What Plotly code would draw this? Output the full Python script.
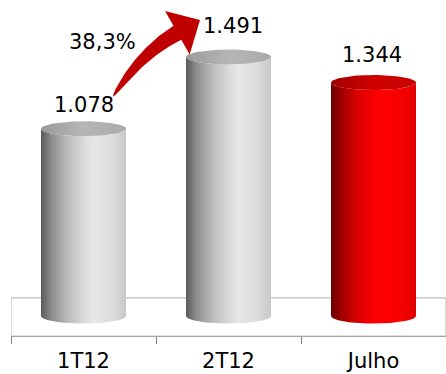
import numpy as np
import plotly.graph_objects as go

# ---- data ----
CATEGORIES = ["1T12", "2T12", "Julho"]
VALUES = [1078, 1491, 1344]
VALUE_LABELS = ["1.078", "1.491", "1.344"]
GROWTH_LABEL = "38,3%"

# ---- layout geometry / style ----
W, H = 446, 374
ML, MR, MT, MB = 11, 0, 0, 38
X_RANGE = [-0.5, 2.5]
Y_RANGE = [-115, 1819]
FLOOR_TOP = 104
FONT = "DejaVu Sans"

plot_w = W - ML - MR
plot_h = H - MT - MB
sx = plot_w / (X_RANGE[1] - X_RANGE[0])
sy = plot_h / (Y_RANGE[1] - Y_RANGE[0])


def to_px(x, y):
    return ML + (x - X_RANGE[0]) * sx, MT + (Y_RANGE[1] - y) * sy


def to_data(px, py):
    return X_RANGE[0] + (px - ML) / sx, Y_RANGE[1] - (py - MT) / sy


HALF_W = 42.5 / sx
ELL = 7.5 / sy

GRAY_BODY = [[0, "#5a5a5a"], [0.12, "#8c8c8c"], [0.32, "#bdbdbd"], [0.52, "#dcdcdc"],
             [0.62, "#e7e7e7"], [0.85, "#dbdbdb"], [1, "#c8c8c8"]]
GRAY_TOP = [[0, "#9a9a9a"], [0.5, "#b6b6b6"], [1, "#aaaaaa"]]
RED_BODY = [[0, "#6a0000"], [0.12, "#a00000"], [0.32, "#dc0000"], [0.52, "#fa0000"],
            [0.62, "#ff0000"], [0.85, "#f40000"], [1, "#e00000"]]
RED_TOP = [[0, "#a00000"], [0.5, "#d00000"], [1, "#c40000"]]
BODY_SCALES = [GRAY_BODY, GRAY_BODY, RED_BODY]
TOP_SCALES = [GRAY_TOP, GRAY_TOP, RED_TOP]

fig = go.Figure()

# dummy trace to register the category axis
fig.add_trace(go.Scatter(x=CATEGORIES, y=[0] * len(CATEGORIES), xaxis="x2", mode="markers",
                         marker=dict(opacity=0), showlegend=False, hoverinfo="skip"))

# cylinders
for i, v in enumerate(VALUES):
    t1 = np.linspace(np.pi, 2 * np.pi, 60)
    t2 = np.linspace(2 * np.pi, np.pi, 60)
    bx = list(i + HALF_W * np.cos(t1)) + list(i + HALF_W * np.cos(t2))
    by = list(ELL * np.sin(t1)) + list(v + ELL * np.sin(t2))
    fig.add_trace(go.Scatter(x=bx, y=by, fill="toself", mode="lines",
                             line=dict(width=0, color="rgba(0,0,0,0)"),
                             fillgradient=dict(type="horizontal", colorscale=BODY_SCALES[i]),
                             showlegend=False, hoverinfo="skip"))
    t = np.linspace(0, 2 * np.pi, 100)
    fig.add_trace(go.Scatter(x=list(i + HALF_W * np.cos(t)), y=list(v + ELL * np.sin(t)),
                             fill="toself", mode="lines",
                             line=dict(width=0, color="rgba(0,0,0,0)"),
                             fillgradient=dict(type="horizontal", colorscale=TOP_SCALES[i]),
                             showlegend=False, hoverinfo="skip"))

# curved growth arrow from bar 1 label to bar 2 label
tx, ty = to_px(0, VALUES[0])
tail = np.array([tx + 29.5, ty - 32])
hx, hy = to_px(1, VALUES[1])
tip = np.array([hx - 28.5, hy - 37])
direc = np.array([23.0, -13.0])
direc /= np.linalg.norm(direc)
neck = tip - 26 * direc
ctrl = neck - 43 * direc
s = np.linspace(0, 1, 60)
pts = ((1 - s) ** 2)[:, None] * tail + (2 * (1 - s) * s)[:, None] * ctrl + (s ** 2)[:, None] * neck
der = (2 * (1 - s))[:, None] * (ctrl - tail) + (2 * s)[:, None] * (neck - ctrl)
nrm = np.stack([-der[:, 1], der[:, 0]], axis=1)
nrm /= np.linalg.norm(nrm, axis=1)[:, None]
wid = 8.0 * s ** 0.55
left = pts + nrm * wid[:, None]
right = pts - nrm * wid[:, None]
perp = np.array([-direc[1], direc[0]])
barb1 = neck + perp * 25
barb2 = neck - perp * 25
poly = list(left) + [barb1, tip, barb2] + list(right[::-1])
ax_, ay_ = zip(*[to_data(p[0], p[1]) for p in poly])
fig.add_trace(go.Scatter(x=list(ax_), y=list(ay_), fill="toself", mode="lines",
                         line=dict(width=0, color="rgba(0,0,0,0)"), fillcolor="#c00000",
                         showlegend=False, hoverinfo="skip"))

# value labels
LABEL_DY = [21, 28, 25]
LABEL_DX = [0, 4, -2]
for i, (v, lab) in enumerate(zip(VALUES, VALUE_LABELS)):
    fig.add_annotation(x=i, y=v + ELL, text=lab, showarrow=False, yanchor="bottom",
                       xshift=LABEL_DX[i], yshift=LABEL_DY[i] - 19,
                       font=dict(family=FONT, size=21, color="#000000"))

gx, gy = to_data(102, 42)
fig.add_annotation(x=gx, y=gy, text=GROWTH_LABEL, showarrow=False,
                   font=dict(family=FONT, size=21, color="#000000"))

# floor
fig.add_shape(type="rect", xref="x", yref="y", x0=X_RANGE[0], x1=X_RANGE[1],
              y0=Y_RANGE[0], y1=FLOOR_TOP, line=dict(color="#bfbfbf", width=1.2),
              fillcolor="white", layer="below")

fig.update_layout(
    width=W, height=H,
    margin=dict(l=ML, r=MR, t=MT, b=MB),
    plot_bgcolor="white", paper_bgcolor="white",
    showlegend=False,
    xaxis=dict(range=X_RANGE, visible=False, fixedrange=True, automargin=False),
    xaxis2=dict(type="category", categoryorder="array", categoryarray=CATEGORIES,
                range=X_RANGE, overlaying="x", anchor="y", side="bottom", automargin=False,
                showline=True, linecolor="#a6a6a6", linewidth=1.2,
                ticks="outside", tickson="boundaries", ticklen=7, tickcolor="#808080",
                tickwidth=1.2, showgrid=False, zeroline=False, ticklabelstandoff=6,
                tickfont=dict(family=FONT, size=21, color="#000000")),
    yaxis=dict(range=Y_RANGE, visible=False, fixedrange=True, automargin=False),
)

fig.write_html("out.html")
